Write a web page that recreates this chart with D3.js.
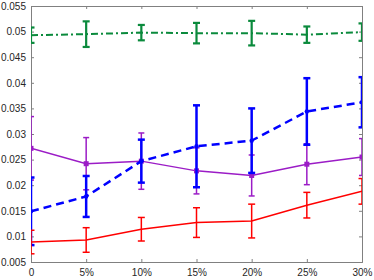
<!DOCTYPE html>
<html>
<head>
<meta charset="utf-8">
<script src="https://cdn.jsdelivr.net/npm/d3@7"></script>
<style>
  body { margin: 0; background: #fff; }
  text { font-family: "Liberation Sans", Arial, sans-serif; font-size: 10px; fill: #262626; }
</style>
</head>
<body>
<script>
const xVals = [0, 5, 10, 15, 20, 25, 30]
const yTicks = [0.005, 0.01, 0.015, 0.02, 0.025, 0.03, 0.035, 0.04, 0.045, 0.05, 0.055]

const greenMean = [0.0493, 0.0495, 0.0498, 0.0497, 0.0497, 0.0494, 0.0499]
const greenErr = [0.0015, 0.0025, 0.0015, 0.0020, 0.0024, 0.0016, 0.0017]
const blueMean = [0.0149, 0.0178, 0.0247, 0.0276, 0.0287, 0.0344, 0.0362]
const blueErr = [0.0066, 0.0040, 0.0042, 0.0080, 0.0063, 0.0065, 0.0049]
const purpleMean = [0.0272, 0.0242, 0.0247, 0.0228, 0.0219, 0.0241, 0.0255]
const purpleErr = [0.0062, 0.0051, 0.0055, 0.0045, 0.0040, 0.0040, 0.0036]
const redMean = [0.0089, 0.0093, 0.0114, 0.0127, 0.0130, 0.0161, 0.0188]
const redErr = [0.0023, 0.0024, 0.0023, 0.0029, 0.0033, 0.0025, 0.0025]

const w = 374
const h = 280
const mLeft = 31, mRight = 362, mTop = 6, mBottom = 262

const x = d3.scaleLinear().domain([0, 30]).range([mLeft, mRight])
const y = d3.scaleLinear().domain([0.005, 0.055]).range([mBottom, mTop])

const svg = d3.select('body').append('svg')
  .attr('width', w)
  .attr('height', h)

svg.append('clipPath').attr('id', 'clip')
  .append('rect')
  .attr('x', mLeft).attr('y', mTop)
  .attr('width', mRight - mLeft).attr('height', mBottom - mTop)

const axisColor = '#808080'

// axes with inward ticks
const xAxis = d3.axisBottom(x).tickValues(xVals).tickSize(-3).tickPadding(7)
  .tickFormat(d => d === 0 ? '0' : d + '%')
const yAxis = d3.axisLeft(y).tickValues(yTicks).tickSize(-3).tickPadding(5)
  .tickFormat(d => String(+d.toFixed(3)))

svg.append('g').attr('transform', `translate(0, ${mBottom})`).call(xAxis)
svg.append('g').attr('transform', `translate(${mLeft}, 0)`).call(yAxis)
svg.append('g').attr('transform', `translate(0, ${mTop})`)
  .call(d3.axisTop(x).tickValues(xVals).tickSize(-3).tickFormat(''))
svg.append('g').attr('transform', `translate(${mRight}, 0)`)
  .call(d3.axisRight(y).tickValues(yTicks).tickSize(-3).tickFormat(''))

svg.selectAll('.domain, .tick line').attr('stroke', axisColor)
svg.selectAll('.tick text').style('font-family', '"Liberation Sans", Arial, sans-serif')
  .style('font-size', '10px').attr('fill', '#262626')

const plot = svg.append('g').attr('clip-path', 'url(#clip)')

function series (means, errs, color, lw, ebw, dash, cap, marker) {
  const pts = xVals.map((v, i) => ({ x: v, m: means[i], e: errs[i] }))
  const g = plot.append('g')
  const eb = g.selectAll('g.eb').data(pts).enter().append('g')
    .attr('stroke', color).attr('stroke-width', ebw)
  eb.append('line')
    .attr('x1', d => x(d.x)).attr('x2', d => x(d.x))
    .attr('y1', d => y(d.m - d.e)).attr('y2', d => y(d.m + d.e))
  eb.append('line')
    .attr('x1', d => x(d.x) - cap).attr('x2', d => x(d.x) + cap)
    .attr('y1', d => y(d.m + d.e)).attr('y2', d => y(d.m + d.e))
  eb.append('line')
    .attr('x1', d => x(d.x) - cap).attr('x2', d => x(d.x) + cap)
    .attr('y1', d => y(d.m - d.e)).attr('y2', d => y(d.m - d.e))

  g.append('path')
    .datum(pts)
    .attr('fill', 'none')
    .attr('stroke', color)
    .attr('stroke-width', lw)
    .attr('stroke-dasharray', dash)
    .attr('d', d3.line().x(d => x(d.x)).y(d => y(d.m)))

  if (marker === 'square') {
    g.selectAll('rect').data(pts).enter().append('rect')
      .attr('x', d => x(d.x) - 2.5).attr('y', d => y(d.m) - 2.5)
      .attr('width', 5).attr('height', 5).attr('fill', color)
  } else if (marker === 'dot') {
    g.selectAll('circle').data(pts).enter().append('circle')
      .attr('cx', d => x(d.x)).attr('cy', d => y(d.m)).attr('r', 2.2)
      .attr('fill', color)
  }
}

series(greenMean, greenErr, '#0a8a3c', 2, 2.2, '7,3,2,3', 3.5, null)
series(purpleMean, purpleErr, '#9b1cc6', 1.5, 1.5, null, 3, 'square')
series(blueMean, blueErr, '#0000ff', 2.5, 2.5, '8,5', 3.5, 'dot')
series(redMean, redErr, '#ff0000', 1.5, 1.5, null, 3.5, null)
</script>
</body>
</html>
